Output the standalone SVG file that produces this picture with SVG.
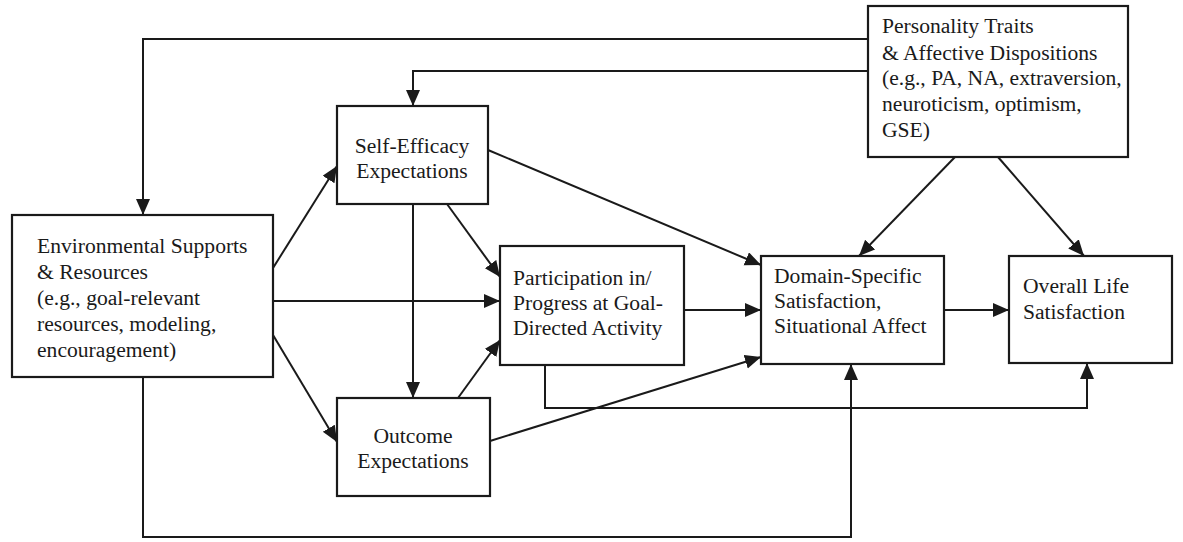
<svg xmlns="http://www.w3.org/2000/svg" width="1183" height="542" viewBox="0 0 1183 542">
<style>
.box{fill:#fff;stroke:#1a1a1a;stroke-width:2.2}
.t{font-family:"Liberation Serif","Times New Roman",serif;font-size:21.6px;fill:#1a1a1a}
.c{text-anchor:middle}
.ln{fill:none;stroke:#1a1a1a;stroke-width:2}
</style>
<defs>
<marker id="ah" markerUnits="userSpaceOnUse" markerWidth="17" markerHeight="15" refX="16" refY="7" orient="auto">
<path d="M0,0 L16,7 L0,14 Z" fill="#1a1a1a"/>
</marker>
</defs>
<rect width="1183" height="542" fill="#fff"/>
<g id="connectors">
<polyline class="ln" points="868,39 143,39 143,215" marker-end="url(#ah)"/>
<polyline class="ln" points="868,71 413,71 413,106" marker-end="url(#ah)"/>
<polyline class="ln" points="143,377 143,537 851,537 851,364" marker-end="url(#ah)"/>
<polyline class="ln" points="545,365 545,408 1087,408 1087,363" marker-end="url(#ah)"/>
<line class="ln" x1="273" y1="268" x2="337" y2="166" marker-end="url(#ah)"/>
<line class="ln" x1="273" y1="301" x2="500" y2="301" marker-end="url(#ah)"/>
<line class="ln" x1="273" y1="335" x2="337" y2="442" marker-end="url(#ah)"/>
<line class="ln" x1="413" y1="204" x2="413" y2="398" marker-end="url(#ah)"/>
<line class="ln" x1="447" y1="204" x2="500" y2="277" marker-end="url(#ah)"/>
<line class="ln" x1="458" y1="398" x2="500" y2="340" marker-end="url(#ah)"/>
<line class="ln" x1="488" y1="150" x2="761" y2="265" marker-end="url(#ah)"/>
<line class="ln" x1="684" y1="310" x2="761" y2="310" marker-end="url(#ah)"/>
<line class="ln" x1="490" y1="441" x2="761" y2="357" marker-end="url(#ah)"/>
<line class="ln" x1="944" y1="310" x2="1009" y2="310" marker-end="url(#ah)"/>
<line class="ln" x1="955" y1="157" x2="859" y2="256" marker-end="url(#ah)"/>
<line class="ln" x1="998" y1="157" x2="1084" y2="256" marker-end="url(#ah)"/>
</g>
<g id="env">
<rect class="box" x="12" y="215" width="261" height="162"/>
<text class="t" x="37" y="253">Environmental Supports</text>
<text class="t" x="37" y="279">&amp; Resources</text>
<text class="t" x="37" y="305">(e.g., goal-relevant</text>
<text class="t" x="37" y="331">resources,  modeling,</text>
<text class="t" x="37" y="357">encouragement)</text>
</g>
<g id="selfefficacy">
<rect class="box" x="337" y="106" width="151" height="98"/>
<text class="t c" x="412" y="153">Self-Efficacy</text>
<text class="t c" x="412" y="178">Expectations</text>
</g>
<g id="outcome">
<rect class="box" x="337" y="398" width="153" height="98"/>
<text class="t c" x="413" y="443">Outcome</text>
<text class="t c" x="413" y="468">Expectations</text>
</g>
<g id="participation">
<rect class="box" x="500" y="246" width="184" height="119"/>
<text class="t" x="513" y="285">Participation in/</text>
<text class="t" x="513" y="310">Progress at Goal-</text>
<text class="t" x="513" y="335">Directed Activity</text>
</g>
<g id="domain">
<rect class="box" x="761" y="256" width="183" height="108"/>
<text class="t" x="774" y="283">Domain-Specific</text>
<text class="t" x="774" y="308">Satisfaction,</text>
<text class="t" x="774" y="333">Situational Affect</text>
</g>
<g id="overall">
<rect class="box" x="1009" y="256" width="163" height="107"/>
<text class="t" x="1023" y="293">Overall Life</text>
<text class="t" x="1023" y="319">Satisfaction</text>
</g>
<g id="personality">
<rect class="box" x="868" y="6" width="260" height="151"/>
<text class="t" x="882" y="33">Personality Traits</text>
<text class="t" x="882" y="60">&amp; Affective Dispositions</text>
<text class="t" x="882" y="85">(e.g., PA, NA, extraversion,</text>
<text class="t" x="882" y="111">neuroticism, optimism,</text>
<text class="t" x="882" y="137">GSE)</text>
</g>
</svg>
